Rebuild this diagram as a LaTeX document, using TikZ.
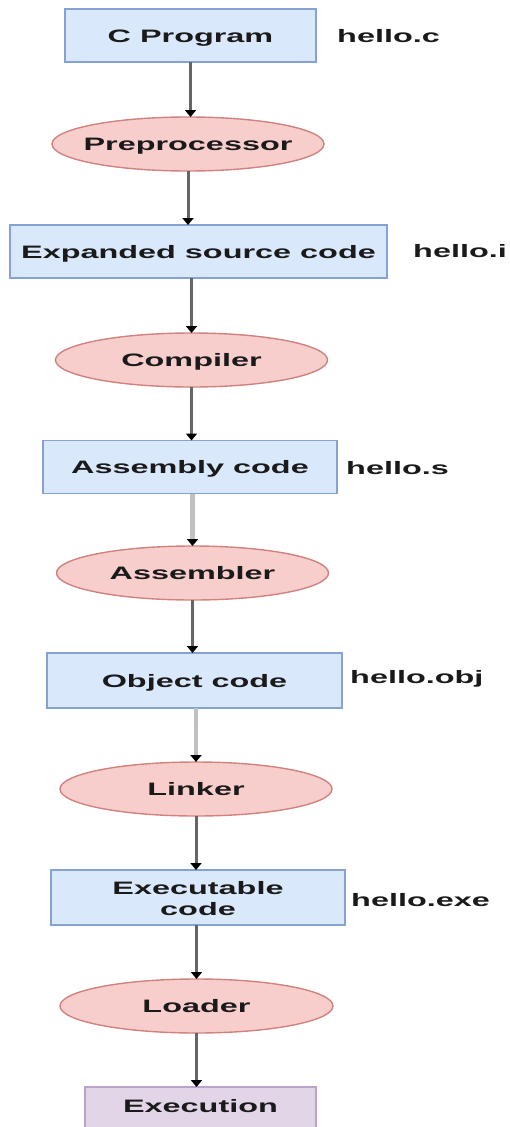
\documentclass[tikz,border=0pt]{standalone}
\usepackage{fontspec}
\setmainfont{Liberation Sans}
\usetikzlibrary{shapes.geometric,arrows.meta}

\definecolor{boxfill}{HTML}{DAE8FC}
\definecolor{boxline}{HTML}{85A2D2}
\definecolor{procfill}{HTML}{F8CECC}
\definecolor{procline}{HTML}{D0827E}
\definecolor{runfill}{HTML}{E1D5E7}
\definecolor{runline}{HTML}{B9A3C6}
\definecolor{flowdark}{HTML}{666666}
\definecolor{flowlight}{HTML}{C0C0C0}
\definecolor{inkc}{HTML}{1A1A1A}

% wide lettering used throughout
\newcommand{\wtext}[1]{\scalebox{1.8}[1]{#1}}
% wide lettering that takes no room, so the shape keeps its own size
\newcommand{\ztext}[1]{\makebox[0pt]{\wtext{#1}}}

\tikzset{
  labelfont/.style={font=\fontsize{18}{21}\selectfont\bfseries, text=inkc},
  capsmid/.style={text height=13pt, text depth=0pt},
  stagebox/.style={rectangle, draw=boxline, fill=boxfill, line width=1.6pt,
    inner sep=0pt, outer sep=0pt, minimum height=53pt, labelfont},
  toolshape/.style={ellipse, draw=procline, fill=procfill, line width=1.4pt,
    inner sep=0pt, outer sep=0pt, minimum width=272pt, minimum height=54pt,
    labelfont, capsmid},
  runbox/.style={rectangle, draw=runline, fill=runfill, line width=1.6pt,
    inner sep=0pt, outer sep=0pt, minimum width=231pt, minimum height=70pt},
  filetag/.style={anchor=west, inner sep=0pt, labelfont, capsmid},
  flow/.style={draw=flowdark, line width=3pt,
    -{Triangle[width=11pt,length=7pt,fill=black,color=black]}},
  flowpale/.style={draw=flowlight, line width=4.5pt,
    -{Triangle[width=11pt,length=7pt,fill=black,color=black]}},
}

\begin{document}
\begin{tikzpicture}[x=1pt,y=-1pt]
\useasboundingbox (0,0) rectangle (509,1127);
\clip (0,0) rectangle (509,1127);

% stages of the build
\node[stagebox, capsmid, minimum width=251pt] (cprog) at (190.5,35.5) {\wtext{C Program}};
\node[toolshape] (pre) at (188,144) {\ztext{Preprocessor}};
\node[stagebox, capsmid, minimum width=377pt] (exp) at (198.5,251.5) {\wtext{Expanded source code}};
\node[toolshape] (comp) at (191.5,360) {\ztext{Compiler}};
\node[stagebox, capsmid, minimum width=294pt] (asm) at (190,467) {\wtext{Assembly code}};
\node[toolshape] (asmb) at (192.5,573) {\ztext{Assembler}};
\node[stagebox, capsmid, minimum width=295pt, minimum height=55pt] (obj) at (194.5,680.5) {\wtext{Object code}};
\node[toolshape] (link) at (196,789) {\ztext{Linker}};
\node[stagebox, minimum width=294pt, minimum height=55pt] (exe) at (198,897.5) {};
\node[labelfont, inner sep=0pt] (exelbl) at (198,900.5)
  {\wtext{\begin{tabular}{@{}c@{}}Executable\\code\end{tabular}}};
\node[toolshape, minimum width=273pt] (load) at (196.5,1006) {\ztext{Loader}};
\node[runbox] (run) at (200.5,1122) {};
\node[inner sep=0pt, labelfont, capsmid] (runlbl) at (200.5,1106) {\wtext{Execution}};

% file produced at each stage
\node[filetag] (fc) at (337,36) {\wtext{hello.c}};
\node[filetag] (fi) at (413,251) {\wtext{hello.i}};
\node[filetag] (fs) at (346,468) {\wtext{hello.s}};
\node[filetag] (fo) at (350,677) {\wtext{hello.obj}};
\node[filetag] (fe) at (351,900) {\wtext{hello.exe}};

% connectors
\draw[flow] (cprog.south) -- (cprog.south |- pre.north);
\draw[flow] (pre.south) -- (pre.south |- exp.north);
\draw[flow] (exp.south -| comp.south) -- (comp.north);
\draw[flow] (comp.south) -- (comp.south |- asm.north);
\draw[flowpale] (asmb.north |- asm.south) -- (asmb.north);
\draw[flow] (asmb.south) -- (asmb.south |- obj.north);
\draw[flowpale] (link.north |- obj.south) -- (link.north);
\draw[flow] (link.south) -- (link.south |- exe.north);
\draw[flow] (exe.south -| load.north) -- (load.north);
\draw[flow] (load.south) -- (load.south |- run.north);
\end{tikzpicture}
\end{document}
